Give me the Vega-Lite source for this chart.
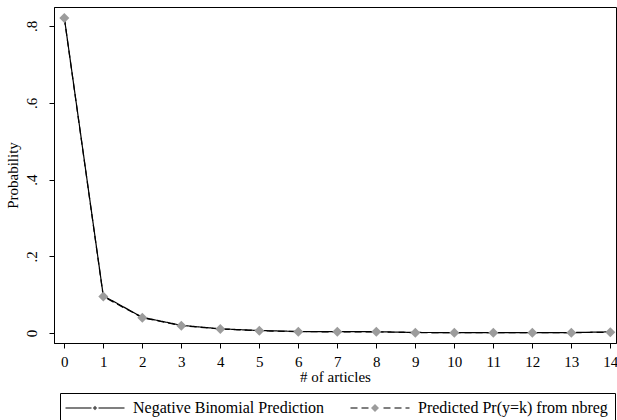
{
  "$schema": "https://vega.github.io/schema/vega-lite/v6.json",
  "autosize": "none",
  "padding": {"left": 54, "top": 7, "right": 1, "bottom": 77},
  "width": 562,
  "height": 336,
  "background": "white",
  "config": {
    "font": "Liberation Serif",
    "view": {"stroke": "black", "strokeWidth": 1},
    "axis": {
      "grid": false,
      "domainColor": "black",
      "tickColor": "black",
      "labelColor": "black",
      "titleColor": "black",
      "labelFont": "Liberation Serif",
      "titleFont": "Liberation Serif",
      "labelFontSize": 15,
      "titleFontSize": 15,
      "titleFontWeight": "normal",
      "tickSize": 5
    }
  },
  "data": {
    "values": [
      {"k": 0, "p": 0.822, "series": "Negative Binomial Prediction"},
      {"k": 1, "p": 0.097, "series": "Negative Binomial Prediction"},
      {"k": 2, "p": 0.041, "series": "Negative Binomial Prediction"},
      {"k": 3, "p": 0.020, "series": "Negative Binomial Prediction"},
      {"k": 4, "p": 0.011, "series": "Negative Binomial Prediction"},
      {"k": 5, "p": 0.0065, "series": "Negative Binomial Prediction"},
      {"k": 6, "p": 0.004, "series": "Negative Binomial Prediction"},
      {"k": 7, "p": 0.0035, "series": "Negative Binomial Prediction"},
      {"k": 8, "p": 0.0035, "series": "Negative Binomial Prediction"},
      {"k": 9, "p": 0.0015, "series": "Negative Binomial Prediction"},
      {"k": 10, "p": 0.001, "series": "Negative Binomial Prediction"},
      {"k": 11, "p": 0.001, "series": "Negative Binomial Prediction"},
      {"k": 12, "p": 0.001, "series": "Negative Binomial Prediction"},
      {"k": 13, "p": 0.0012, "series": "Negative Binomial Prediction"},
      {"k": 14, "p": 0.003, "series": "Negative Binomial Prediction"},
      {"k": 0, "p": 0.821, "series": "Predicted Pr(y=k) from nbreg"},
      {"k": 1, "p": 0.095, "series": "Predicted Pr(y=k) from nbreg"},
      {"k": 2, "p": 0.040, "series": "Predicted Pr(y=k) from nbreg"},
      {"k": 3, "p": 0.019, "series": "Predicted Pr(y=k) from nbreg"},
      {"k": 4, "p": 0.0105, "series": "Predicted Pr(y=k) from nbreg"},
      {"k": 5, "p": 0.006, "series": "Predicted Pr(y=k) from nbreg"},
      {"k": 6, "p": 0.0035, "series": "Predicted Pr(y=k) from nbreg"},
      {"k": 7, "p": 0.003, "series": "Predicted Pr(y=k) from nbreg"},
      {"k": 8, "p": 0.003, "series": "Predicted Pr(y=k) from nbreg"},
      {"k": 9, "p": 0.001, "series": "Predicted Pr(y=k) from nbreg"},
      {"k": 10, "p": 0.001, "series": "Predicted Pr(y=k) from nbreg"},
      {"k": 11, "p": 0.001, "series": "Predicted Pr(y=k) from nbreg"},
      {"k": 12, "p": 0.001, "series": "Predicted Pr(y=k) from nbreg"},
      {"k": 13, "p": 0.001, "series": "Predicted Pr(y=k) from nbreg"},
      {"k": 14, "p": 0.002, "series": "Predicted Pr(y=k) from nbreg"}
    ]
  },
  "encoding": {
    "x": {
      "field": "k",
      "type": "quantitative",
      "scale": {"domain": [-0.264, 14.146], "nice": false, "zero": false},
      "axis": {
        "values": [0, 1, 2, 3, 4, 5, 6, 7, 8, 9, 10, 11, 12, 13, 14],
        "title": "# of articles",
        "labelPadding": 6,
        "titlePadding": 0
      }
    },
    "y": {
      "field": "p",
      "type": "quantitative",
      "scale": {"domain": [-0.026, 0.8495], "nice": false, "zero": false},
      "axis": {
        "values": [0, 0.2, 0.4, 0.6, 0.8],
        "labelExpr": "replace(format(datum.value, '.1~f'), '0.', '.')",
        "labelAngle": 270,
        "labelAlign": "center",
        "labelBaseline": "bottom",
        "labelPadding": 10,
        "title": "Probability",
        "titlePadding": 4
      }
    }
  },
  "layer": [
    {
      "mark": {"type": "line", "color": "black", "strokeWidth": 1.2},
      "encoding": {
        "strokeDash": {
          "field": "series",
          "type": "nominal",
          "scale": {
            "range": [[1, 0], [7, 4]]
          },
          "legend": {
            "orient": "none",
            "legendX": 6,
            "legendY": 386,
            "direction": "horizontal",
            "title": null,
            "symbolType": "M-5.9,0H-0.7M0.7,0H5.9",
            "symbolSize": 100,
            "symbolOffset": 20,
            "symbolStrokeColor": "black",
            "symbolStrokeWidth": 1.2,
            "symbolFillColor": "transparent",
            "labelFont": "Liberation Serif",
            "labelFontSize": 16,
            "labelColor": "black",
            "labelLimit": 400,
            "labelOffset": 30,
            "columnPadding": 23,
            "padding": 7,
            "strokeColor": "black"
          }
        }
      }
    },
    {
      "mark": {"type": "point", "shape": "diamond", "filled": true, "opacity": 1, "strokeWidth": 0},
      "encoding": {
        "color": {
          "field": "series",
          "type": "nominal",
          "scale": {
            "domain": ["Negative Binomial Prediction", "Predicted Pr(y=k) from nbreg"],
            "range": ["#555555", "#9c9c9c"]
          },
          "legend": {
            "orient": "none",
            "legendX": 6,
            "legendY": 386,
            "direction": "horizontal",
            "title": null,
            "symbolType": "M-0.8,0L0,-0.8L0.8,0L0,0.8Z",
            "symbolSize": 100,
            "symbolOffset": 20,
            "symbolStrokeWidth": 1.2,
            "symbolStrokeColor": "transparent",
            "labelExpr": "''",
            "labelFontSize": 16,
            "labelOffset": 30,
            "columnPadding": 214,
            "padding": 7
          }
        },
        "size": {
          "field": "series",
          "type": "nominal",
          "scale": {
            "domain": ["Negative Binomial Prediction", "Predicted Pr(y=k) from nbreg"],
            "range": [30, 100]
          },
          "legend": null
        }
      }
    }
  ]
}
